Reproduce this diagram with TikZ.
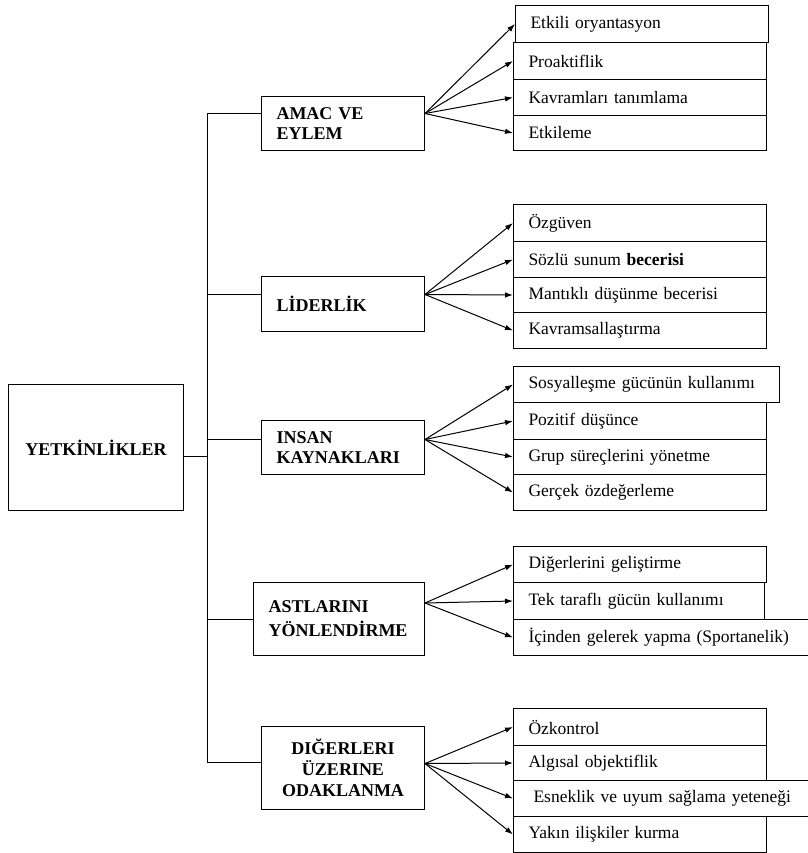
\documentclass[tikz,border=0pt]{standalone}
\usepackage{fontspec}
\setmainfont{Liberation Serif}
\usetikzlibrary{arrows.meta}
\begin{document}
\begin{tikzpicture}[x=1pt,y=-1pt,
  kutu/.style={draw, line width=1pt, anchor=north west, inner xsep=15pt, inner ysep=0pt,
    align=left, font=\fontsize{17.5}{20}\selectfont, text width=223pt},
  baslik/.style={draw, line width=1pt, anchor=north west, inner xsep=15pt, inner ysep=0pt,
    align=left, font=\bfseries\fontsize{18}{19.5}\selectfont, text width=133pt},
  cizgi/.style={line width=1pt},
  ok/.style={line width=1pt, -{Latex[length=8pt,width=5.5pt]}}]
\useasboundingbox (0,0) rectangle (807,853);
% ana kutu
\node[baslik, align=center, text width=145pt, minimum height=126pt] (kok) at (8,384) {YETKİNLİKLER};
% basliklar
\node[baslik, minimum height=54pt] (h1) at (261,96) {AMAC VE\\EYLEM};
\node[baslik, minimum height=55pt] (h2) at (261,276) {LİDERLİK};
\node[baslik, minimum height=54pt] (h3) at (261,420) {INSAN\\KAYNAKLARI};
\node[baslik, text width=141pt, minimum height=73pt, font=\bfseries\fontsize{18}{24}\selectfont] (h4) at (253,582) {ASTLARINI\\YÖNLENDİRME};
\node[baslik, align=center, minimum height=83pt, font=\bfseries\fontsize{18}{21}\selectfont] (h5) at (261,726) {DIĞERLERI\\ÜZERINE\\ODAKLANMA};
% ana hat
\coordinate (gv) at (207,0);
\draw[cizgi] ([yshift=10pt]h1.west) -| ([yshift=5.5pt]h5.west -| gv) -- ([yshift=5.5pt]h5.west);
\draw[cizgi] ([yshift=-9pt]kok.east) -- ([yshift=-9pt]kok.east -| gv);
\draw[cizgi] ([yshift=9.5pt]h2.west) -- ([yshift=9.5pt]h2.west -| gv);
\draw[cizgi] ([yshift=8pt]h3.west) -- ([yshift=8pt]h3.west -| gv);
\draw[cizgi] (h4.west) -- (h4.west -| gv);
% amac ve eylem
\node[kutu, minimum height=37pt] (a2) at (513,42) {Proaktiflik};
\node[kutu, minimum height=36pt] (a3) at (513,79) {Kavramları tanımlama};
\node[kutu, minimum height=35pt] (a4) at (513,115) {Etkileme};
\node[kutu, minimum height=37pt] (a1) at (515,5) {Etkili oryantasyon};
% liderlik
\node[kutu, minimum height=37pt] (l1) at (513,204) {Özgüven};
\node[kutu, minimum height=36pt] (l2) at (513,241) {Sözlü sunum \textbf{becerisi}};
\node[kutu, minimum height=35pt] (l3) at (513,277) {Mantıklı düşünme becerisi};
\node[kutu, minimum height=36pt] (l4) at (513,312) {Kavramsallaştırma};
% insan kaynaklari
\node[kutu, minimum height=37pt] (k2) at (513,402) {Pozitif düşünce};
\node[kutu, minimum height=35pt] (k3) at (513,439) {Grup süreçlerini yönetme};
\node[kutu, minimum height=36pt] (k4) at (513,474) {Gerçek özdeğerleme};
\node[kutu, text width=236pt, minimum height=36pt] (k1) at (513,366) {Sosyalleşme gücünün kullanımı};
% astlarini yonlendirme
\node[kutu, minimum height=36pt] (y1) at (513,546) {Diğerlerini geliştirme};
\node[kutu, text width=221pt, minimum height=37pt] (y2) at (513,582) {Tek taraflı gücün kullanımı};
\node[kutu, text width=267pt, minimum height=36pt] (y3) at (513,619) {İçinden gelerek yapma (Sportanelik)};
% digerleri uzerine odaklanma
\node[kutu, minimum height=37pt] (d1) at (513,708) {Özkontrol};
\node[kutu, minimum height=35pt] (d2) at (513,745) {Algısal objektiflik};
\node[kutu, minimum height=36pt] (d4) at (513,816) {Yakın ilişkiler kurma};
\node[kutu, text width=267pt, minimum height=36pt, inner xsep=20pt] (d3) at (513,780) {Esneklik ve uyum sağlama yeteneği};
% oklar
\foreach \i in {1,...,4} \draw[ok] ([yshift=10pt]h1.east) -- (a\i.west);
\foreach \i in {1,...,4} \draw[ok] ([yshift=9.5pt]h2.east) -- (l\i.west);
\foreach \i in {1,...,4} \draw[ok] ([yshift=8pt]h3.east) -- (k\i.west);
\foreach \i in {1,...,3} \draw[ok] ([yshift=16pt]h4.east) -- (y\i.west);
\foreach \i in {1,...,4} \draw[ok] ([yshift=4.5pt]h5.east) -- (d\i.west);
\end{tikzpicture}
\end{document}
